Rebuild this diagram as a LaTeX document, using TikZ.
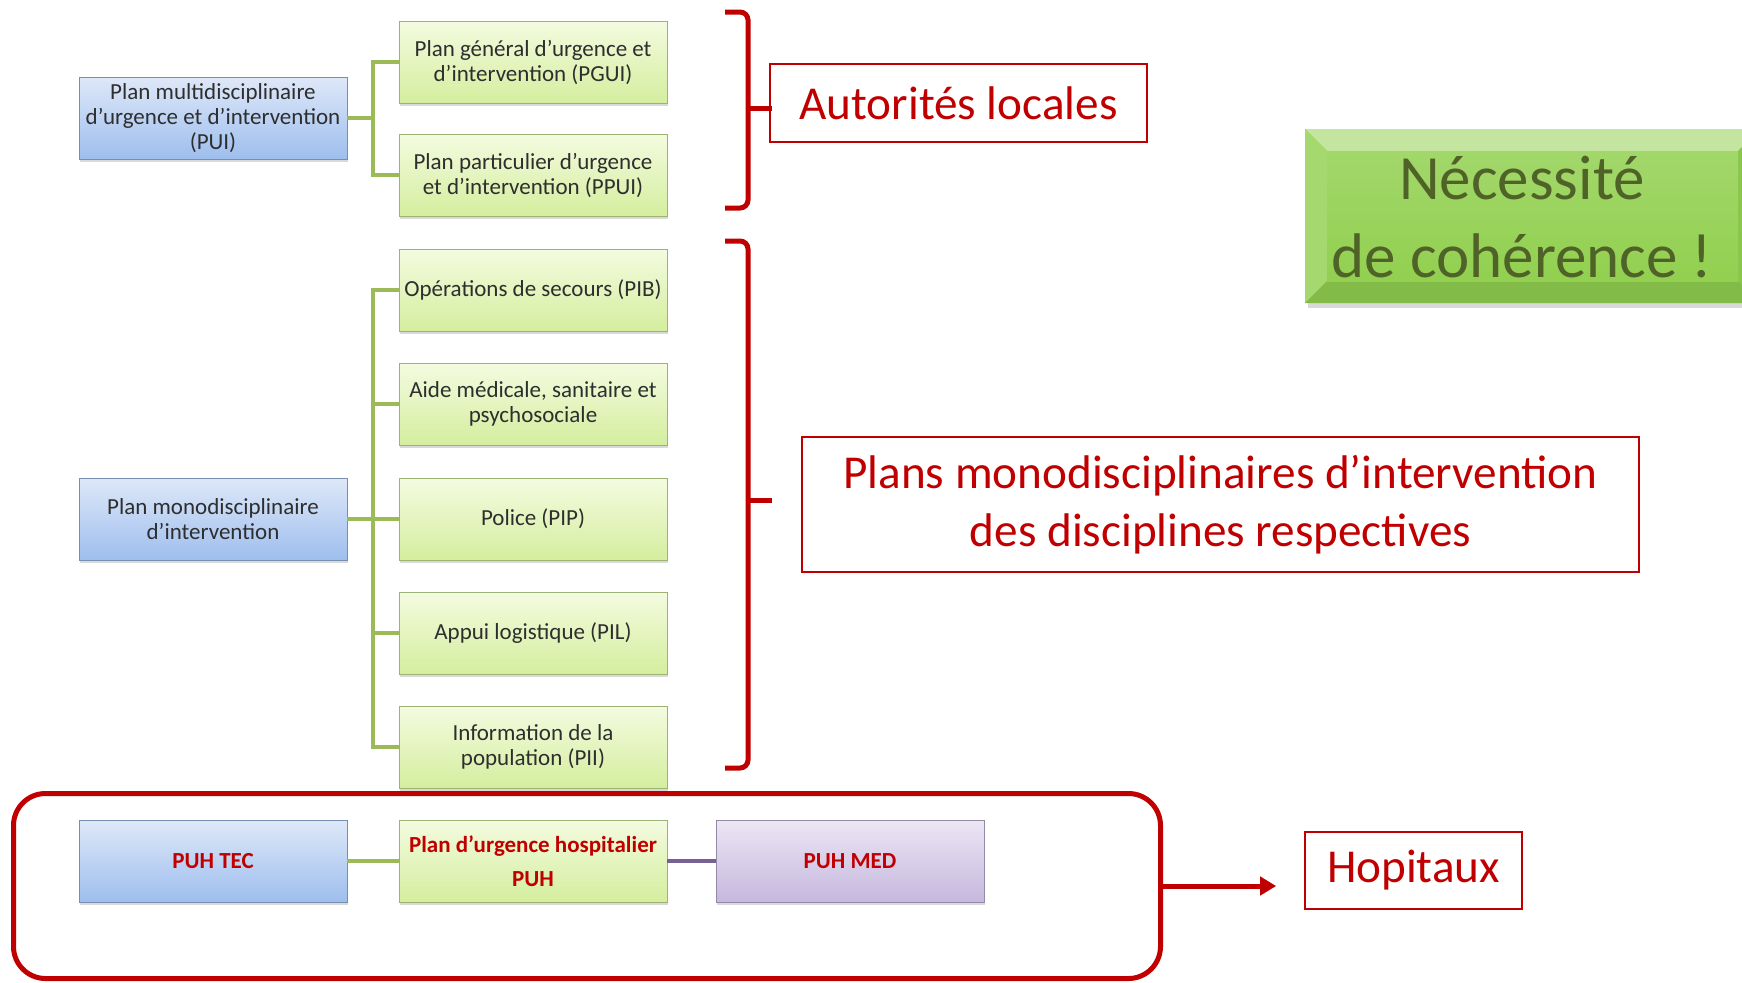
\documentclass[tikz,border=0pt]{standalone}
\usepackage{fontspec}
\setmainfont{Carlito}
\usetikzlibrary{shadows, arrows.meta}
\definecolor{planred}{RGB}{192, 0, 0}
\definecolor{bluetop}{RGB}{222, 232, 248}
\definecolor{bluebot}{RGB}{158, 190, 238}
\definecolor{greentop}{RGB}{244, 251, 224}
\definecolor{greenbot}{RGB}{212, 238, 158}
\definecolor{purpletop}{RGB}{236, 230, 244}
\definecolor{purplebot}{RGB}{198, 184, 222}
\definecolor{linkgreen}{RGB}{155, 187, 89}
\definecolor{linkpurple}{RGB}{118, 96, 150}
\definecolor{bevelface}{RGB}{146, 208, 80}
\definecolor{beveltext}{RGB}{79, 98, 40}

\begin{document}
\begin{tikzpicture}[x=0.5pt, y=-0.5pt,
    planbox/.style={minimum width=134pt, minimum height=41pt, inner sep=1pt,
      align=center, text=black!82, font=\fontsize{11.5}{12.5}\selectfont,
      drop shadow={opacity=0.3, shadow xshift=0.6pt, shadow yshift=-1.6pt}},
    bluebox/.style={planbox, draw=bluebot!75!black, top color=bluetop, bottom color=bluebot},
    greenbox/.style={planbox, draw=greenbot!75!black, top color=greentop, bottom color=greenbot},
    purplebox/.style={planbox, draw=purplebot!75!black, top color=purpletop, bottom color=purplebot},
    hosptext/.style={text=planred, font=\bfseries\fontsize{11.5}{17}\selectfont},
    link/.style={linkgreen, line width=1.8pt},
    brace/.style={planred, line width=2.5pt, rounded corners=4pt},
    labelbox/.style={draw=planred, line width=0.8pt, text=planred, align=center,
      font=\fontsize{23.6}{29}\selectfont}
  ]
  \useasboundingbox (0,0) rectangle (1742,982);

  % plan multidisciplinaire
  \node[bluebox] (pui) at (213,118) {Plan multidisciplinaire\\d'urgence et d'intervention\\(PUI)};
  \node[greenbox] (pgui) at (533,62) {Plan général d'urgence et\\d'intervention (PGUI)};
  \node[greenbox] (ppui) at (533,175) {Plan particulier d'urgence\\et d'intervention (PPUI)};
  \coordinate (jmulti) at (373,118);
  \draw[link] (pui.east) -- (jmulti);
  \draw[link] (jmulti) |- (pgui.west);
  \draw[link] (jmulti) |- (ppui.west);

  % plans monodisciplinaires
  \node[bluebox] (mono) at (213,519) {Plan monodisciplinaire\\d'intervention};
  \node[greenbox] (pib) at (533,290) {Opérations de secours (PIB)};
  \node[greenbox] (aide) at (533,404) {Aide médicale, sanitaire et\\psychosociale};
  \node[greenbox] (pip) at (533,519) {Police (PIP)};
  \node[greenbox] (pil) at (533,633) {Appui logistique (PIL)};
  \node[greenbox] (pii) at (533,747) {Information de la\\population (PII)};
  \coordinate (jmono) at (373,519);
  \draw[link] (mono.east) -- (jmono);
  \foreach \n in {pib, aide, pip, pil, pii}
    \draw[link] (jmono) |- (\n.west);

  % hopitaux
  \node[bluebox, hosptext] (tec) at (213,861) {PUH TEC};
  \node[greenbox, hosptext] (puh) at (533,861) {Plan d'urgence hospitalier\\PUH};
  \node[purplebox, hosptext] (med) at (850,861) {PUH MED};
  \draw[link] (tec) -- (puh);
  \draw[link, linkpurple] (puh) -- (med);
  \node[draw=planred, line width=2.5pt, rounded corners=16pt,
    minimum width=573.5pt, minimum height=92.5pt] (hospframe) at (587,886) {};

  % accolades
  \draw[brace] (725,12) -- (748,12) -- (748,208) -- (725,208);
  \draw[brace] (748,108) -- (772,108);
  \draw[brace] (725,241) -- (748,241) -- (748,768) -- (725,768);
  \draw[brace] (748,500) -- (772,500);

  % etiquettes
  \node[labelbox, minimum width=188.5pt, minimum height=39pt] (autorites) at (958.5,103) {Autorités locales};
  \node[labelbox, minimum width=418.5pt, minimum height=67.5pt] (monolabel) at (1220.5,504.5)
    {Plans monodisciplinaires d’intervention\\des disciplines respectives};
  \node[labelbox, minimum width=108.5pt, minimum height=38.5pt] (hopitaux) at (1413.5,870.5) {Hopitaux};
  \draw[planred, line width=2.5pt, -{Triangle[length=8pt, width=9pt]}]
    (hospframe.east) -- ([xshift=-14pt]hopitaux.west |- hospframe.east);

  % necessite de coherence
  \fill[black, opacity=0.15] (1308,134) rectangle (1764,308);
  \fill[bevelface] (1305,129) rectangle (1760,303);
  \fill[bevelface!55!white] (1305,129) -- (1760,129) -- (1738,151) -- (1327,151) -- cycle;
  \fill[bevelface!82!white] (1305,129) -- (1327,151) -- (1327,281) -- (1305,303) -- cycle;
  \fill[bevelface!90!black] (1305,303) -- (1327,281) -- (1738,281) -- (1760,303) -- cycle;
  \fill[bevelface!95!black] (1760,129) -- (1738,151) -- (1738,281) -- (1760,303) -- cycle;
  \shade[top color=bevelface!85!white, bottom color=bevelface] (1327,151) rectangle (1738,281);
  \node[text=beveltext, align=center, font=\fontsize{31.5}{39}\selectfont] (coherence) at (1522,217)
    {Nécessité\\de cohérence !};
\end{tikzpicture}
\end{document}
